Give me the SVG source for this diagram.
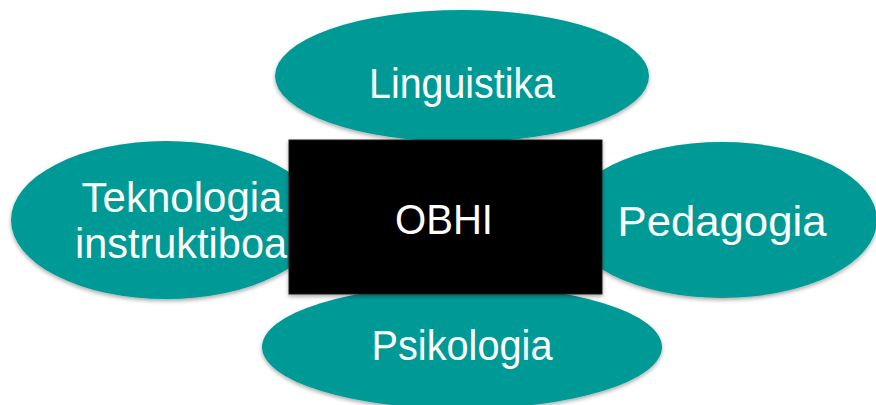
<svg xmlns="http://www.w3.org/2000/svg" width="876" height="405" viewBox="0 0 876 405">
<defs>
<filter id="sh" x="-10%" y="-10%" width="120%" height="130%">
<feGaussianBlur in="SourceAlpha" stdDeviation="2"/>
<feOffset dx="0" dy="2" result="b"/>
<feComponentTransfer><feFuncA type="linear" slope="0.35"/></feComponentTransfer>
<feMerge><feMergeNode/><feMergeNode in="SourceGraphic"/></feMerge>
</filter>
</defs>
<style>
.el{fill:#029a96;filter:url(#sh)}
.t{fill:#ffffff;font-family:"Liberation Sans","DejaVu Sans",sans-serif;font-size:42px;text-anchor:middle}
</style>
<rect width="876" height="405" fill="#ffffff"/>
<g id="linguistika">
<ellipse class="el" cx="462" cy="76" rx="187" ry="66"/>
<text class="t" x="462" y="98" textLength="186" lengthAdjust="spacingAndGlyphs">Linguistika</text>
</g>
<g id="teknologia">
<ellipse class="el" cx="166" cy="220" rx="155" ry="79"/>
<text class="t" x="182" y="212" textLength="201" lengthAdjust="spacingAndGlyphs">Teknologia</text>
<text class="t" x="181" y="258" textLength="212" lengthAdjust="spacingAndGlyphs">instruktiboa</text>
</g>
<g id="pedagogia">
<ellipse class="el" cx="722" cy="220" rx="155" ry="78"/>
<text class="t" x="722" y="236" textLength="209" lengthAdjust="spacingAndGlyphs">Pedagogia</text>
</g>
<g id="psikologia">
<ellipse class="el" cx="462" cy="347" rx="200" ry="62"/>
<text class="t" x="462" y="360" textLength="181" lengthAdjust="spacingAndGlyphs">Psikologia</text>
</g>
<g id="obhi">
<rect x="289" y="140" width="313" height="154" fill="#000000" stroke="#222" stroke-width="1" filter="url(#sh)"/>
<text class="t" x="444" y="234" textLength="98" lengthAdjust="spacingAndGlyphs">OBHI</text>
</g>
<g id="connectors"/>
</svg>
